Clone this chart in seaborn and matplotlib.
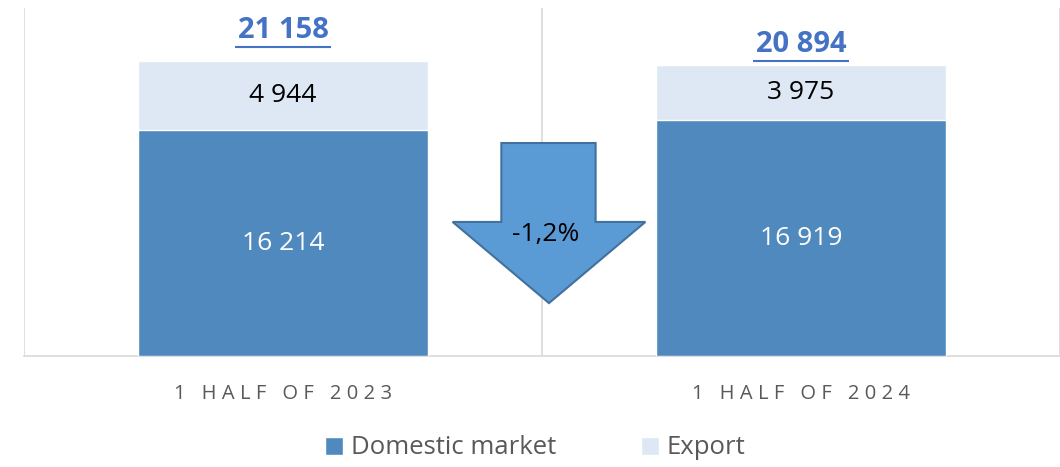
import matplotlib
matplotlib.use('Agg')
import matplotlib.pyplot as plt
import seaborn as sns
import pandas as pd
from matplotlib.patches import Polygon, Patch

# データ
periods = ['1 HALF OF 2023', '1 HALF OF 2024']
domestic = [16214, 16919]
export = [4944, 3975]
totals = [21158, 20894]
change_label = '-1,2%'

def fmt(v):
    return f'{v:,}'.replace(',', ' ')

sns.set_theme(style='white')
plt.rcParams['font.family'] = ['Open Sans', 'DejaVu Sans']

dom_color = '#4F89BD'
exp_color = '#DEE8F4'
grid_color = '#D9D9D9'

df = pd.DataFrame({'period': periods, 'domestic': domestic, 'export': export})
df['total'] = df['domestic'] + df['export']

fig = plt.figure(figsize=(10.6, 4.67), dpi=100)
ax = fig.add_axes([24 / 1060, 1 - 356 / 467, 1 - 24 / 1060, 348 / 467])

sns.barplot(data=df, x='period', y='total', color=exp_color, width=0.56,
            saturation=1, ax=ax, zorder=2)
sns.barplot(data=df, x='period', y='domestic', color=dom_color, width=0.56,
            saturation=1, ax=ax, zorder=3)

ax.set_xlim(-0.5, 1.5)
ax.set_ylim(0, 25000)
ax.set_xlabel('')
ax.set_ylabel('')
ax.set_yticks([])
for s in ['top', 'right', 'left']:
    ax.spines[s].set_visible(False)
ax.spines['bottom'].set_color(grid_color)
ax.spines['bottom'].set_linewidth(1.2)

# 縦グリッド線
for xv in [-0.5, 0.5, 1.5]:
    ax.axvline(xv, color=grid_color, lw=1.2, zorder=0)

# ラベル
for i in range(len(periods)):
    ax.text(i, domestic[i] / 2, fmt(domestic[i]), ha='center', va='center',
            color='white', fontsize=19, zorder=5)
    ax.text(i, domestic[i] + export[i] / 2, fmt(export[i]), ha='center',
            va='center', color='black', fontsize=19, zorder=5)

tot_offsets = [2200, 1450]
for i in range(len(periods)):
    ax.text(i, totals[i] + tot_offsets[i], fmt(totals[i]), ha='center',
            va='center', color='#4472C4', fontsize=21, fontweight='bold',
            zorder=5)
    # 下線
    ax.plot([i - 0.092, i + 0.092], [totals[i] + tot_offsets[i] - 1150] * 2,
            color='#4472C4', lw=1.5, zorder=5, solid_capstyle='butt')

# 矢印
cx = 0.5135
arrow = Polygon([(cx - 0.092, 15300), (cx + 0.09, 15300), (cx + 0.09, 9630),
                 (cx + 0.186, 9630), (cx, 3800), (cx - 0.186, 9630),
                 (cx - 0.092, 9630)],
                closed=True, facecolor='#5B9BD5', edgecolor='#41719C',
                lw=1.5, zorder=4)
ax.add_patch(arrow)
ax.text(cx - 0.007, 8700, change_label, ha='center', va='center',
        fontsize=19, color='black', zorder=5)

# x軸ラベル（字間を広げる）
ax.set_xticks(range(len(periods)))
ax.set_xticklabels(['\u2009\u200a'.join(list(p)) for p in periods],
                   fontsize=14.5, color='#595959')
ax.tick_params(axis='x', length=0, pad=20)

handles = [Patch(facecolor=dom_color, label='Domestic market'),
           Patch(facecolor=exp_color, label='Export')]
fig.legend(handles=handles, loc='center', bbox_to_anchor=(0.505, 1 - 448 / 467),
           ncol=2, frameon=False, fontsize=18.5, labelcolor='#595959',
           handlelength=0.7, handleheight=0.7, handletextpad=0.3,
           columnspacing=3.3)

fig.savefig('out.png', dpi=100)
